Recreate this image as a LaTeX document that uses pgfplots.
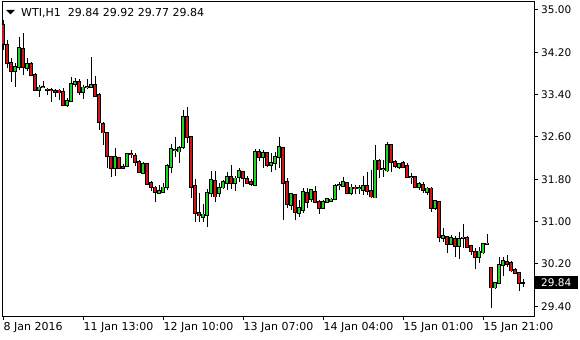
\documentclass[border=0pt]{standalone}
\usepackage{fontspec}
\setmainfont{DejaVu Sans}
\usepackage{pgfplots}
\usepackage{pgfplotstable}
\pgfplotsset{compat=1.18}
\definecolor{bull}{RGB}{34,210,34}
\definecolor{bear}{RGB}{210,20,20}

% bullish candles (close >= open)
\pgfplotstableread{
i O H L C
3 33.85 34.00 33.54 33.92
4 33.92 34.49 33.87 34.28
6 33.90 34.09 33.85 33.98
9 33.49 33.58 33.36 33.54
10 33.54 33.66 33.53 33.55
16 33.20 33.34 33.17 33.28
17 33.28 33.73 33.26 33.60
18 33.60 33.71 33.54 33.64
20 33.45 33.58 33.32 33.54
21 33.54 33.70 33.51 33.55
22 33.54 34.11 33.53 33.58
28 32.01 32.39 31.86 32.22
31 32.05 32.28 32.04 32.28
35 31.92 32.13 31.90 32.09
39 31.54 31.69 31.54 31.58
40 31.56 31.73 31.54 31.65
41 31.65 32.09 31.60 32.05
42 32.03 32.47 31.92 32.37
43 32.35 32.60 32.22 32.36
44 32.32 32.43 32.11 32.39
45 32.41 33.11 32.37 32.98
50 31.09 31.33 30.99 31.14
51 31.12 31.62 30.90 31.54
52 31.54 31.96 31.47 31.79
54 31.54 31.73 31.47 31.64
55 31.64 31.79 31.62 31.75
56 31.73 31.94 31.60 31.84
58 31.73 31.86 31.58 31.82
59 31.84 32.01 31.75 31.96
63 31.69 32.37 31.67 32.32
65 32.22 32.35 32.01 32.30
67 32.07 32.30 31.94 32.11
68 32.11 32.32 31.98 32.22
69 32.22 32.60 32.01 32.41
72 31.31 31.54 31.22 31.52
74 31.16 31.41 31.09 31.26
75 31.22 31.64 31.16 31.56
77 31.43 31.62 31.37 31.60
80 31.26 31.41 31.24 31.37
81 31.37 31.45 31.35 31.43
82 31.39 31.45 31.37 31.42
83 31.43 31.71 31.41 31.67
84 31.68 31.75 31.60 31.69
85 31.67 31.84 31.65 31.75
87 31.54 31.71 31.50 31.65
89 31.63 31.69 31.52 31.64
90 31.60 31.86 31.50 31.67
93 31.45 32.45 31.44 32.16
95 31.99 32.16 31.84 32.00
96 31.96 32.50 31.94 32.45
99 32.03 32.11 31.99 32.09
102 31.84 31.92 31.71 31.85
104 31.65 31.75 31.60 31.71
106 31.56 31.65 31.50 31.63
108 31.26 31.39 31.22 31.39
110 30.69 30.88 30.61 30.73
112 30.58 30.75 30.56 30.69
114 30.54 30.80 30.29 30.67
115 30.69 30.95 30.50 30.70
119 30.33 30.52 30.22 30.44
120 30.41 30.60 30.39 30.58
121 30.58 30.77 30.56 30.59
123 29.75 29.84 29.73 29.84
124 29.84 30.33 29.82 30.18
125 30.18 30.33 29.97 30.26
130 29.84 29.92 29.77 29.84
}\upT

% bearish candles (close < open)
\pgfplotstableread{
i O H L C
0 34.72 34.81 34.24 34.36
1 34.34 34.43 33.90 34.00
2 34.00 34.09 33.64 33.85
5 34.26 34.56 33.77 33.92
7 33.98 34.02 33.77 33.77
8 33.77 33.81 33.47 33.49
11 33.50 33.53 33.39 33.49
12 33.49 33.53 33.26 33.48
13 33.47 33.51 33.36 33.45
14 33.48 33.51 33.30 33.44
15 33.45 33.53 33.19 33.20
19 33.64 33.70 33.39 33.45
23 33.58 33.75 33.36 33.37
24 33.40 33.43 32.73 32.88
25 32.85 32.88 32.45 32.68
26 32.68 32.69 32.01 32.24
27 32.22 32.24 31.84 32.01
29 32.20 32.22 32.01 32.01
30 32.03 32.09 31.99 32.01
32 32.28 32.35 32.20 32.27
33 32.24 32.30 32.05 32.13
34 32.13 32.16 31.92 31.94
36 32.09 32.09 31.69 31.71
37 31.73 31.77 31.58 31.65
38 31.65 31.67 31.37 31.56
46 32.98 33.17 32.49 32.60
47 32.60 32.60 31.45 31.65
48 31.67 31.81 30.99 31.16
49 31.16 31.54 30.99 31.11
53 31.77 31.96 31.37 31.47
57 31.84 32.07 31.62 31.73
60 31.94 31.96 31.65 31.82
61 31.81 31.86 31.73 31.73
62 31.75 31.81 31.67 31.71
64 32.32 32.37 32.15 32.22
66 32.30 32.32 32.03 32.07
70 32.39 32.41 31.03 31.73
71 31.75 31.82 31.26 31.33
73 31.50 31.52 31.03 31.18
76 31.54 31.64 31.26 31.37
78 31.56 31.67 31.35 31.37
79 31.37 31.41 31.14 31.26
86 31.73 31.74 31.52 31.54
88 31.65 31.69 31.52 31.62
91 31.67 31.94 31.50 31.58
92 31.58 31.98 31.45 31.47
94 32.15 32.18 31.82 31.98
97 32.45 32.47 31.94 32.13
98 32.13 32.16 32.01 32.05
100 32.11 32.15 32.01 32.03
101 32.05 32.11 31.82 31.84
103 31.84 31.86 31.63 31.65
105 31.69 31.75 31.54 31.60
107 31.63 31.65 31.18 31.26
109 31.37 31.39 30.61 30.71
111 30.71 30.73 30.41 30.58
113 30.67 30.73 30.33 30.54
116 30.69 30.73 30.50 30.52
117 30.54 30.56 30.37 30.44
118 30.43 30.50 30.10 30.33
122 30.12 30.14 29.37 29.75
126 30.24 30.37 30.14 30.20
127 30.22 30.26 30.05 30.07
128 30.09 30.12 30.01 30.03
129 30.03 30.05 29.69 29.84
}\downT

\pgfplotsset{
  wick/.style={draw=none, mark=none, forget plot,
    error bars/.cd, y dir=plus, y explicit, error mark=none,
    error bar style={draw=black, solid, line width=1bp}},
  bodyblack/.style={draw=none, mark=none, forget plot,
    error bars/.cd, y dir=plus, y explicit, error mark=none,
    error bar style={draw=black, solid, line width=3.5bp}},
  bodycol/.style={draw=none, mark=none, forget plot,
    error bars/.cd, y dir=plus, y explicit, error mark=none,
    error bar style={draw=#1, solid, line width=1.6bp}},
}

\begin{document}
\begin{tikzpicture}
\useasboundingbox (-2bp,-24bp) rectangle (578bp,316bp);
\begin{axis}[
  scale only axis, width=532bp, height=314bp,
  xmin=-0.25, xmax=132.75, ymin=29.2155, ymax=35.1512,
  axis line style={line width=1bp, black},
  xtick={0,20,40,60,80,100,120},
  xticklabels={8 Jan 2016, 11 Jan 13:00, 12 Jan 10:00, 13 Jan 07:00, 14 Jan 04:00, 15 Jan 01:00, 15 Jan 21:00},
  ytick={29.4,30.2,31.0,31.8,32.6,33.4,34.2,35.0},
  yticklabel={\pgfmathprintnumber[fixed,fixed zerofill,precision=2,assume math mode=true]{\tick}},
  xtick pos=bottom, ytick pos=right, yticklabel pos=right,
  tick align=outside, major tick length=4bp,
  tick style={black, line width=1bp},
  tick label style={text=black},
  xticklabel style={font=\fontsize{11bp}{13bp}\selectfont, anchor=north west, inner sep=0pt, xshift=0.5bp, yshift=-2bp},
  yticklabel style={font=\fontsize{10.5bp}{12bp}\selectfont, anchor=west, inner sep=0pt, xshift=3bp},
]
% wicks
\addplot[wick] table[x=i, y=L, y error plus expr=\thisrow{H}-\thisrow{L}] {\upT};
\addplot[wick] table[x=i, y=L, y error plus expr=\thisrow{H}-\thisrow{L}] {\downT};
% bodies: black outline
\addplot[bodyblack] table[x=i, y expr=\thisrow{O}-0.013, y error plus expr=\thisrow{C}-\thisrow{O}+0.026] {\upT};
\addplot[bodyblack] table[x=i, y expr=\thisrow{C}-0.013, y error plus expr=\thisrow{O}-\thisrow{C}+0.026] {\downT};
% bodies: colour
\addplot[bodycol=bull] table[x=i, y=O, y error plus expr=\thisrow{C}-\thisrow{O}] {\upT};
\addplot[bodycol=bear] table[x=i, y=C, y error plus expr=\thisrow{O}-\thisrow{C}] {\downT};
\coordinate (cp) at (axis cs:132.75,29.84);
\end{axis}
\node[fill=black, text=white, anchor=west, minimum width=44bp, minimum height=13bp, inner sep=0pt,
      font=\fontsize{10.5bp}{12bp}\selectfont] at (cp) {29.84};
\fill[black] (4bp,306bp) -- (13bp,306bp) -- (8.5bp,301.5bp) -- cycle;
\node[anchor=base west, inner sep=0pt, font=\fontsize{11bp}{13bp}\selectfont] at (19bp,299.5bp)
  {WTI,H1\ \ 29.84 29.92 29.77 29.84};
\end{tikzpicture}
\end{document}
